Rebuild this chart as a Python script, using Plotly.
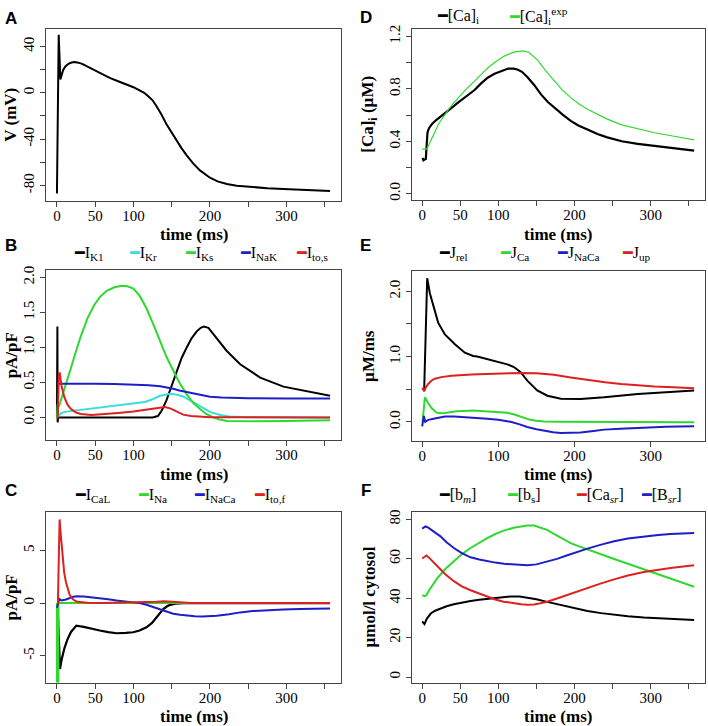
import plotly.graph_objects as go

W, H = 708, 726
SERIF = "Liberation Serif"
SANS = "Liberation Sans"

# ---------------- data ----------------
# Panel A: membrane potential
tA = [0, 2.3, 4.5, 6, 8, 11, 15, 19, 23, 28, 33, 40, 51.6, 60, 69, 80, 91, 100, 108, 114, 119,
      125, 130, 136, 143, 150, 156.5, 163, 169.6, 178, 187, 200, 210, 222, 235, 252.5, 275, 296, 325, 357]
vA = [-87, 50, 11.5, 15, 19.5, 22.8, 25, 26.1, 26.5, 26.0, 25, 22.5, 18.6, 15.7, 12.9, 10, 7.2, 4.8, 2, 0, -2.8,
      -6.5, -11.4, -18, -27, -34.5, -41.4, -48, -54, -61, -67, -73.3, -76.5, -78.7, -80.3, -81.3, -82.3, -83, -84, -84.7]

# Panel B: potassium / pump currents
tK1 = [0, 0.6, 0.9, 1.5, 50, 100, 125, 132, 137, 143, 150, 156.5, 163, 169.6, 176, 182.7, 188, 192, 198,
       204.5, 212, 222, 239.5, 265.7, 296, 327, 357]
iK1 = [0, 1.3, -0.07, 0.0, 0.0, 0.0, 0.0, 0.02, 0.1, 0.24, 0.45, 0.67, 0.85, 1.0, 1.13, 1.23, 1.28, 1.30, 1.28,
       1.19, 1.08, 0.95, 0.76, 0.57, 0.44, 0.37, 0.31]
tKr = [0, 2, 5, 10, 25, 50, 75, 100, 115, 125, 135, 148, 155, 165, 175, 187, 200, 212, 225, 250, 357]
iKr = [0, 0.03, 0.06, 0.08, 0.1, 0.13, 0.16, 0.19, 0.22, 0.26, 0.31, 0.34, 0.33, 0.3, 0.24, 0.16, 0.08, 0.04,
       0.015, 0.003, 0]
tKs = [0, 1, 3, 6, 10, 18.4, 25, 31.5, 40, 49, 56, 65, 75, 85, 92, 100, 108, 117, 126, 134.6, 143, 152, 160,
       169.6, 178, 187, 195, 204.5, 213, 222, 240, 260, 300, 357]
iKs = [0, 0.19, 0.17, 0.27, 0.42, 0.71, 0.95, 1.17, 1.42, 1.61, 1.72, 1.81, 1.86, 1.88, 1.875, 1.84, 1.74, 1.56,
       1.33, 1.09, 0.87, 0.67, 0.5, 0.33, 0.21, 0.12, 0.05, 0.0, -0.03, -0.05, -0.055, -0.055, -0.05, -0.04]
tNaK = [0.5, 25, 50, 75, 100, 120, 135, 145, 152, 160, 170, 180, 190, 200, 215, 230, 250, 300, 357]
iNaK = [0.48, 0.485, 0.48, 0.478, 0.472, 0.46, 0.445, 0.43, 0.41, 0.385, 0.36, 0.335, 0.31, 0.295, 0.285,
        0.278, 0.275, 0.272, 0.27]
tTos = [0, 1, 2.5, 3.7, 6, 9.7, 14, 18.4, 25, 31.5, 45, 60, 80, 100, 115, 125, 135, 141, 148, 156.5, 165, 175,
        187, 200, 357]
iTos = [0, 0.0, 0.63, 0.63, 0.45, 0.29, 0.18, 0.12, 0.07, 0.05, 0.035, 0.045, 0.065, 0.085, 0.105, 0.12, 0.14,
        0.15, 0.13, 0.08, 0.04, 0.02, 0.01, 0.003, 0]

# Panel C: inward / transient currents
tCaL = [0, 1, 4, 6, 9.7, 14, 18.4, 25.4, 35, 45, 56, 67, 78, 90, 99.6, 108, 117, 124, 130, 135, 139, 144, 148,
        155, 165, 180, 357]
iCaL = [0, -0.5, -6.26, -5.4, -4.3, -3.4, -2.74, -2.14, -2.25, -2.45, -2.6, -2.75, -2.86, -2.83, -2.77, -2.6,
        -2.3, -1.9, -1.36, -0.95, -0.57, -0.3, -0.16, -0.05, 0, 0, 0]
tNa = [0, 1.1, 1.5, 2.0, 357]
iNa = [0, -5, -180, 0, 0]
tNaCaC = [0, 1.5, 3, 6, 12, 20, 25.4, 35, 45, 56, 67, 78, 90, 100, 108, 117, 125, 134, 143, 152, 161, 170, 180,
          190, 200, 209, 225, 239.5, 256, 274, 296, 318, 340, 357]
iNaCaC = [-0.45, 0.1, 0.4, 0.25, 0.35, 0.58, 0.65, 0.63, 0.56, 0.47, 0.36, 0.25, 0.17, 0.08, 0.0, -0.15, -0.35,
          -0.6, -0.85, -1.0, -1.1, -1.19, -1.24, -1.27, -1.25, -1.2, -1.05, -0.88, -0.76, -0.66, -0.6, -0.55,
          -0.52, -0.5]
tTof = [0, 1.3, 2.2, 3.5, 5, 7.5, 9.5, 11.8, 14, 16.2, 19, 22.8, 27, 32, 40, 60, 100, 120, 130, 140, 150, 160,
        175, 357]
iTof = [0, 0, 3.5, 7.95, 6.5, 4.2, 2.9, 1.98, 1.35, 0.88, 0.5, 0.25, 0.12, 0.06, 0.03, 0.02, 0.05, 0.1, 0.14,
        0.18, 0.14, 0.06, 0.02, 0.0]

# Panel D: intracellular calcium
tCai = [0.5, 1.7, 3, 4.8, 5.8, 7, 9, 12.7, 18, 25.8, 32, 39, 47, 56.5, 64, 68.8, 77, 86, 95, 103, 113, 120,
        125, 131, 138, 147, 156, 165, 173.5, 184, 195, 205, 217, 230, 243, 262, 283, 305, 326.7, 357]
Cai = [0.273, 0.255, 0.26, 0.265, 0.36, 0.468, 0.5, 0.53, 0.56, 0.594, 0.625, 0.657, 0.695, 0.738, 0.775,
       0.791, 0.84, 0.885, 0.915, 0.935, 0.955, 0.955, 0.948, 0.93, 0.89, 0.83, 0.758, 0.70, 0.657, 0.605,
       0.556, 0.52, 0.49, 0.455, 0.43, 0.40, 0.38, 0.365, 0.35, 0.328]
tCaExp = [0, 6, 9, 12.7, 17, 21.4, 28, 34.6, 41, 47.7, 58, 68.8, 77, 86, 96, 107.7, 120, 131.8, 140, 151.5,
          162, 173.5, 184, 195, 206, 217, 230, 243, 262, 283, 305, 327, 357]
CaExp = [0.34, 0.34, 0.375, 0.417, 0.475, 0.53, 0.59, 0.644, 0.69, 0.733, 0.80, 0.859, 0.91, 0.96, 1.005,
         1.05, 1.08, 1.09, 1.08, 1.02, 0.94, 0.86, 0.79, 0.733, 0.685, 0.645, 0.605, 0.569, 0.525, 0.493,
         0.465, 0.442, 0.41]

# Panel E: calcium fluxes
tRel = [2.6, 6.6, 10.1, 14.5, 21, 29.8, 43, 56, 67, 72.3, 85.4, 98.6, 111.8, 120.5, 129.3, 138, 151, 164.4,
        182, 208, 239, 283, 327, 357]
Jrel = [0.47, 2.2, 1.97, 1.80, 1.52, 1.34, 1.19, 1.06, 1.01, 1.0, 0.96, 0.91, 0.88, 0.84, 0.76, 0.63, 0.48,
        0.40, 0.355, 0.35, 0.376, 0.426, 0.46, 0.48]
tJCa = [0.5, 1.5, 3.6, 5.5, 7.9, 12.3, 18.9, 25, 30, 45, 67, 85.4, 100, 112, 120, 129, 136, 142, 150, 160, 180, 357]
JCa = [0.0, 0.17, 0.376, 0.33, 0.28, 0.21, 0.14, 0.13, 0.136, 0.16, 0.175, 0.163, 0.155, 0.137, 0.115, 0.08,
       0.05, 0.03, 0.015, 0.005, 0.0, -0.005]
tJNaCa = [0, 2.2, 4, 8, 16.6, 30, 42, 60, 85.4, 100, 116, 128, 138, 150, 160, 172, 182, 195, 208, 225, 239,
          260, 283, 320, 357]
JNaCa = [-0.07, 0.09, 0.0, 0.03, 0.05, 0.08, 0.08, 0.07, 0.046, 0.03, 0.0, -0.04, -0.08, -0.115, -0.14, -0.16,
         -0.17, -0.172, -0.165, -0.14, -0.12, -0.105, -0.09, -0.077, -0.07]
tJup = [0, 2.6, 5, 7.9, 12, 16.6, 25, 38.5, 65, 90, 110, 130, 150, 173, 195, 217, 240, 261, 283, 305, 330, 357]
Jup = [0.52, 0.47, 0.53, 0.58, 0.63, 0.66, 0.685, 0.705, 0.725, 0.737, 0.745, 0.75, 0.745, 0.72, 0.68, 0.64,
       0.605, 0.578, 0.558, 0.54, 0.528, 0.515]

# Panel F: buffers
tbm = [0, 3, 6, 11.3, 17, 24, 32, 41.6, 52, 63.5, 75, 85.4, 100, 116, 128, 138, 150, 164, 177, 190.6, 204,
       217, 235, 252, 270, 291, 320, 357]
bm = [28.2, 26.8, 29.5, 32.2, 33.6, 34.7, 35.9, 36.9, 37.8, 38.6, 39.2, 39.7, 40.3, 40.8, 40.8, 40.3, 39.4,
      38.1, 36.9, 35.7, 34.5, 33.5, 32.4, 31.5, 30.8, 30.2, 29.5, 28.9]
tbs = [0, 3, 5.5, 10, 19.7, 30, 41.6, 52, 63.5, 75, 85.4, 96, 107, 120, 130, 138, 147, 155, 164, 173, 184, 195,
       206, 217, 235, 252, 270, 291, 310, 326, 340, 357]
bs = [41.5, 41.0, 41.5, 44.5, 50, 54.6, 58.7, 62.2, 65.4, 68.1, 70.4, 72.5, 74.2, 75.7, 76.4, 76.8, 76.8, 75.8,
      74.6, 72.5, 70.3, 67.9, 66.2, 64.6, 62.1, 59.8, 57.4, 54.6, 52.0, 49.9, 47.9, 45.8]
tCasr = [0, 3, 5.7, 9, 14, 19.7, 30, 41.6, 52, 63.5, 75, 85.4, 96, 107, 120, 130, 138, 147, 155, 164, 177,
         190.6, 204, 217, 235, 252, 270, 291, 310, 326, 357]
Casr = [60.1, 61.0, 61.6, 60.5, 58.6, 56.2, 52.2, 48.6, 46.0, 44.0, 42.2, 40.6, 39.3, 38.2, 37.3, 36.9, 36.7,
        36.8, 37.4, 38.2, 39.8, 41.6, 43.5, 45.3, 47.5, 49.5, 51.5, 53.2, 54.5, 55.3, 56.7]
tBsr = [0, 2.5, 4.4, 8, 14, 24, 32, 41.6, 52, 63.5, 75, 85.4, 96, 107.3, 120, 130, 138, 150, 164, 177, 190.6,
        204, 217, 235, 252, 270, 291, 310, 326, 357]
Bsr = [75.2, 75.9, 76.3, 75.7, 74.0, 71.3, 68.3, 65.4, 62.8, 60.7, 59.6, 58.7, 58.0, 57.4, 57.0, 56.8, 56.7,
       57.1, 58.4, 59.9, 61.7, 63.5, 65.1, 67.1, 68.8, 70.2, 71.3, 72.0, 72.5, 73.0]

# tick values / labels (labelled major ticks + unlabelled minor ticks)
xt_vals = [0, 50, 100, 200, 300]
xt_text = ["0", "50", "100", "200", "300"]
xt_minor = [150, 250, 350]
xtE_vals = [0, 100, 200, 300]
xtE_text = ["0", "100", "200", "300"]
yA_vals = [-80, -40, 0, 40]
yA_text = ["-80", "-40", "0", "40"]
yA_minor = [-60, -20, 20]
yB_vals = [0, 0.5, 1.0, 1.5, 2.0]
yB_text = ["0.0", "0.5", "1.0", "1.5", "2.0"]
yC_vals = [-5, 0, 5]
yC_text = ["-5", "0", "5"]
yD_vals = [0, 0.4, 0.8, 1.2]
yD_text = ["0.0", "0.4", "0.8", "1.2"]
yD_minor = [0.2, 0.6, 1.0]
yE_vals = [0, 1.0, 2.0]
yE_text = ["0.0", "1.0", "2.0"]
yE_minor = [0.5, 1.5]
yF_vals = [0, 20, 40, 60, 80]
yF_text = ["0", "20", "40", "60", "80"]

BLACK, CYAN, GREEN, BLUE, RED = "#000000", "#3ADCDC", "#2FD82F", "#1E1EC8", "#DD2020"

# ---------------- layout geometry (pixels) ----------------
panels = {
    # name: (x0, x1, y_top, y_bottom, xrange, yrange)
    "A": (46, 341, 24, 197, [-14.3, 371.3], [-93.1, 55.2]),
    "B": (46, 341, 267.3, 438.3, [-14.3, 371.3], [-0.326, 2.1]),
    "C": (46, 341, 511, 682.3, [-14.3, 371.3], [-7.55, 8.61]),
    "D": (411.5, 704.5, 24.3, 196.7, [-14.0, 370.6], [-0.051, 1.256]),
    "E": (411.5, 704.5, 267.7, 439, [-14.0, 370.6], [-0.294, 2.314]),
    "F": (411.5, 704.5, 511, 682.3, [-14.0, 370.6], [-2.8, 83.4]),
}
order = ["A", "B", "C", "D", "E", "F"]

series = {
    "A": [(tA, vA, BLACK, 2, "V")],
    "B": [(tK1, iK1, BLACK, 2, "I<sub>K1</sub>"), (tKr, iKr, CYAN, 2, "I<sub>Kr</sub>"),
          (tKs, iKs, GREEN, 2, "I<sub>Ks</sub>"), (tNaK, iNaK, BLUE, 2, "I<sub>NaK</sub>"),
          (tTos, iTos, RED, 2, "I<sub>to,s</sub>")],
    "C": [(tCaL, iCaL, BLACK, 2.2, "I<sub>CaL</sub>"), (tNa, iNa, GREEN, 2, "I<sub>Na</sub>"),
          (tNaCaC, iNaCaC, BLUE, 2, "I<sub>NaCa</sub>"), (tTof, iTof, RED, 2, "I<sub>to,f</sub>")],
    "D": [(tCai, Cai, BLACK, 2.2, "[Ca]<sub>i</sub>"), (tCaExp, CaExp, GREEN, 1.2, "[Ca]<sub>i</sub><sup>exp</sup>")],
    "E": [(tRel, Jrel, BLACK, 2, "J<sub>rel</sub>"), (tJCa, JCa, GREEN, 2, "J<sub>Ca</sub>"),
          (tJNaCa, JNaCa, BLUE, 2, "J<sub>NaCa</sub>"), (tJup, Jup, RED, 2, "J<sub>up</sub>")],
    "F": [(tbm, bm, BLACK, 2, "[b<sub><i>m</i></sub>]"), (tbs, bs, GREEN, 2, "[b<sub>s</sub>]"),
          (tCasr, Casr, RED, 2, "[Ca<sub><i>sr</i></sub>]"), (tBsr, Bsr, BLUE, 2, "[B<sub><i>sr</i></sub>]")],
}
ytitles = {"A": "V (mV)", "B": "pA/pF", "C": "pA/pF", "D": "[Ca]<sub>i</sub> (µM)",
           "E": "µM/ms", "F": "µmol/l cytosol"}
yticks = {"A": (yA_vals, yA_text, yA_minor), "B": (yB_vals, yB_text, []), "C": (yC_vals, yC_text, []),
          "D": (yD_vals, yD_text, yD_minor), "E": (yE_vals, yE_text, yE_minor), "F": (yF_vals, yF_text, [])}
xticks = {k: (xt_vals, xt_text, xt_minor) for k in order}
xticks["E"] = (xtE_vals, xtE_text, [])

# legend placement (pixels): entry left x positions and row centre y
legend_pos = {
    "B": ([72, 127, 183, 238, 294], 250),
    "C": ([73, 136, 192, 252], 493),
    "D": ([435, 507], 11),
    "E": ([437, 498, 555, 620], 250),
    "F": ([437, 505, 574, 639], 493),
}
letter_pos = {"A": (11, 14), "B": (11, 242), "C": (11, 489), "D": (366, 13), "E": (366, 242), "F": (366, 489)}
ytitle_x = {"A": 11, "B": 11, "C": 12, "D": 369, "E": 369, "F": 370}
XTITLE_GAP = 34

fig = go.Figure()
layout = dict(width=W, height=H, margin=dict(l=0, r=0, t=0, b=0), plot_bgcolor="white",
              paper_bgcolor="white", showlegend=False, font=dict(family=SERIF, color="black"))
annotations = []


def minor_spec(vals):
    if not vals:
        return dict(ticks="")
    return dict(tickmode="array", tickvals=vals, ticks="outside", ticklen=5, tickcolor="#444",
                showgrid=False)


for i, name in enumerate(order):
    x0, x1, yt, yb, xr, yr = panels[name]
    sfx = "" if i == 0 else str(i + 1)
    xa, ya = "x" + sfx, "y" + sfx
    for (tt, vv, col, lw, lab) in series[name]:
        fig.add_trace(go.Scatter(x=tt, y=vv, mode="lines", name=lab, xaxis=xa, yaxis=ya,
                                 line=dict(color=col, width=lw), hoverinfo="skip"))
    common = dict(showline=True, mirror=True, linecolor="#444", linewidth=1, ticks="outside",
                  ticklen=5, tickcolor="#444", showgrid=False, zeroline=False, fixedrange=True,
                  tickfont=dict(family=SERIF, size=15, color="black"))
    xv, xtxt, xmin = xticks[name]
    yv, ytxt, ymin = yticks[name]
    layout["xaxis" + sfx] = dict(common, domain=[x0 / W, x1 / W], range=xr, anchor=ya,
                                 tickmode="array", tickvals=xv, ticktext=xtxt, minor=minor_spec(xmin),
                                 ticklabelstandoff=-4)
    layout["yaxis" + sfx] = dict(common, domain=[1 - yb / H, 1 - yt / H], range=yr, anchor=xa,
                                 tickmode="array", tickvals=yv, ticktext=ytxt, tickangle=-90,
                                 minor=minor_spec(ymin))
    # axis titles
    annotations.append(dict(text="<b>time (ms)</b>", x=(x0 + x1) / 2 / W, y=1 - (yb + XTITLE_GAP) / H,
                            xref="paper", yref="paper", showarrow=False, xanchor="center",
                            yanchor="middle", font=dict(family=SERIF, size=17, color="black")))
    annotations.append(dict(text="<b>" + ytitles[name] + "</b>", x=ytitle_x[name] / W,
                            y=1 - (yt + yb) / 2 / H, xref="paper", yref="paper", showarrow=False,
                            textangle=-90, xanchor="center", yanchor="middle",
                            font=dict(family=SERIF, size=17, color="black")))
    lx, ly = letter_pos[name]
    annotations.append(dict(text="<b>" + name + "</b>", x=lx / W, y=1 - ly / H, xref="paper", yref="paper",
                            showarrow=False, xanchor="center", yanchor="middle",
                            font=dict(family=SANS, size=17, color="black")))
    if name in legend_pos:
        xs, yc = legend_pos[name]
        for (tt, vv, col, lw, lab), lxp in zip(series[name], xs):
            annotations.append(dict(
                text='<span style="color:%s;font-family:DejaVu Sans Mono">━</span>%s' % (col, lab),
                x=lxp / W, y=1 - yc / H, xref="paper", yref="paper", showarrow=False,
                xanchor="left", yanchor="middle", font=dict(family=SERIF, size=16, color="black")))

layout["annotations"] = annotations
fig.update_layout(**layout)
fig.write_html("out.html", config={"displayModeBar": False, "staticPlot": True},
               post_script="document.body.style.margin='0';document.body.style.overflow='hidden';")
